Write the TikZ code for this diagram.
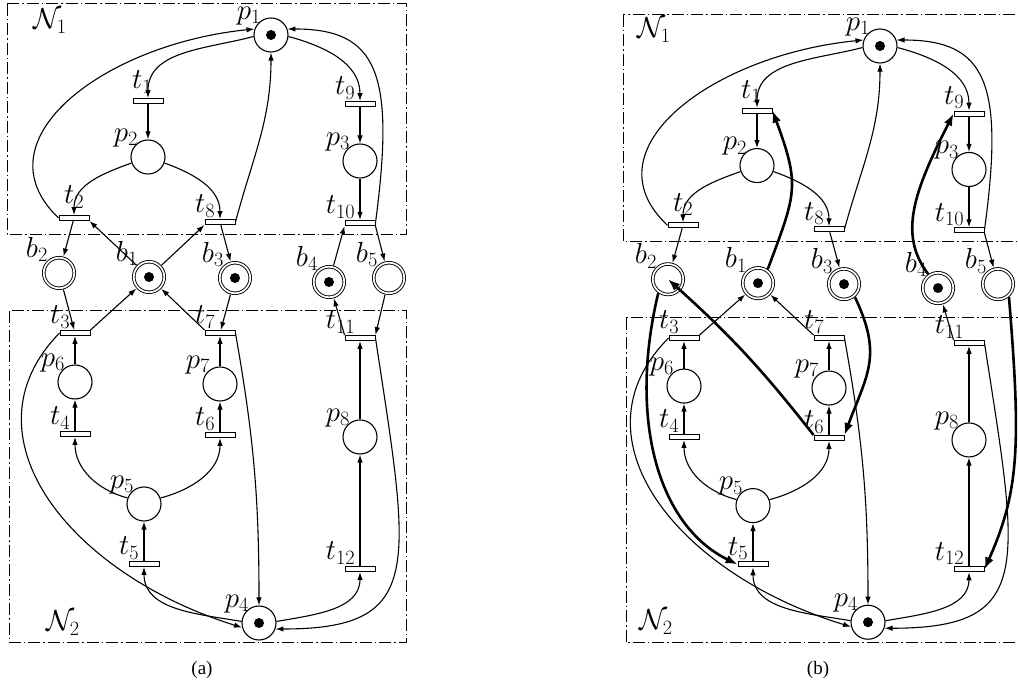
\RequirePackage{fix-cm}
\documentclass[tikz,border=0pt]{standalone}
\usepackage{fontspec}
\newfontfamily\capfont{Liberation Serif}
\usepackage{tikz}
\usetikzlibrary{arrows.meta}
\tikzset{
  place/.style={circle, draw, line width=1.1pt, minimum size=34pt, inner sep=0pt},
  buf/.style={circle, draw, line width=0.9pt, double, double distance=1.7pt, minimum size=30.5pt, inner sep=0pt, outer sep=1.8pt},
  trans/.style={rectangle, draw, fill=white, line width=0.9pt, minimum width=30pt, minimum height=5pt, inner sep=0pt},
  tok/.style={path picture={\fill (path picture bounding box.center) circle (5pt);}},
  notok/.style={},
  flow/.style={draw, line width=1.1pt, -{Latex[length=8pt,width=5.5pt]}},
  flowb/.style={draw, line width=2.6pt, -{Latex[length=12pt,width=9pt]}},
  lab/.style={font=\fontsize{29}{34}\selectfont, inner sep=1pt},
  captext/.style={font=\capfont\fontsize{19}{22}\selectfont},
  netbox/.style={draw, line width=1pt, dash pattern=on 12pt off 3pt on 1.5pt off 3pt},
}
% places, transitions, buffers and the arcs shared by both nets
\newcommand{\petrinet}{%
  \foreach \i/\x/\y/\m in {1/271/650/tok, 2/148/528/notok, 3/360/524/notok, 4/259/62/tok,
                           5/144/181/notok, 6/75/303/notok, 7/220/301/notok, 8/360/248/notok}
    \node[place,\m,label={[lab,label distance=-5pt]135:$p_{\i}$}] (p\i) at (\x,\y) {};
  \foreach \i/\x/\y/\m in {1/149/408/tok, 2/59/412/notok, 3/235/407/tok, 4/329/403/tok, 5/389/407/notok}
    \node[buf,\m,label={[lab,label distance=-3pt]135:$b_{\i}$}] (b\i) at (\x,\y) {};
  \foreach \i/\x/\y/\sx/\sy in {1/148/584/9pt/3pt, 2/74/467/15pt/5pt, 3/75/352/0pt/0pt, 4/75/251/0pt/0pt,
                            5/144/121/0pt/0pt, 6/220/250/0pt/0pt, 7/220/352/0pt/0pt, 8/220/463/0pt/0pt,
                            9/360/581/0pt/0pt, 10/360/462/0pt/0pt, 11/360/347/0pt/0pt, 12/360/116/0pt/0pt}
    \node[trans,label={[lab,label distance=1pt,xshift=\sx,yshift=\sy]above left:$t_{\i}$}] (t\i) at (\x,\y) {};
  % N1
  \draw[flow] (p1.185) to[out=195,in=90] (t1.north);
  \draw[flow] (t1) -- (p2);
  \draw[flow] (p2.200) to[out=200,in=90] (t2.north);
  \draw[flow] (p2.340) to[out=-20,in=90] (t8.north);
  \draw[flow] (t2.west) .. controls +(-82,78) and +(-150,-15) .. (p1.160);
  \draw[flow] (t8.east) to[out=75,in=-90] (p1.south);
  \draw[flow] (p1.-5) to[out=-15,in=90] (t9.north);
  \draw[flow] (t9) -- (p3);
  \draw[flow] (p3) -- (t10);
  \draw[flow] (t10.east) .. controls +(20,150) and +(90,0) .. (p1.20);
  % buffers
  \draw[flow] (t2) -- (b2);
  \draw[flow] (t8) -- (b3);
  \draw[flow] (t10.south east) -- (b5);
  \draw[flow] (t3.north east) -- (b1);
  \draw[flow] (t7.north west) -- (b1);
  \draw[flow] (t11.north west) -- (b4);
  % N2
  \draw[flow] (p6) -- (t3);
  \draw[flow] (t4) -- (p6);
  \draw[flow] (p7) -- (t7);
  \draw[flow] (t6) -- (p7);
  \draw[flow] (t5) -- (p5);
  \draw[flow] (t12) -- (p8);
  \draw[flow] (p8) -- (t11);
  \draw[flow] (p5.160) to[out=165,in=-90] (t4.south);
  \draw[flow] (p5.20) to[out=15,in=-90] (t6.south);
  \draw[flow] (p4.175) to[out=170,in=-90] (t5.south);
  \draw[flow] (p4.5) to[out=10,in=-90] (t12.south);
  \draw[flow] (t3.west) .. controls +(-100,-102) and +(-173,54) .. (p4.195);
  \draw[flow] (t7.east) to[out=-80,in=90] (p4.north);
  \draw[flow] (t11.east) .. controls +(35,-230) and +(150,0) .. (p4.-20);
}
\begin{document}
\begin{tikzpicture}[x=1pt,y=1pt]
  \useasboundingbox[fill=white] (0,0) rectangle (1018,685);
  \draw[netbox] (7,681) rectangle (406,450);
  \draw[netbox] (9,374) rectangle (406,42);
  \draw[netbox] (623,670) rectangle (1021,443);
  \draw[netbox] (626,367) rectangle (1021,42);
  \node[lab] (na1) at (50,664) {$\mathcal{N}_1$};
  \node[lab] (na2) at (63,62) {$\mathcal{N}_2$};
  \node[lab] (nb1) at (654,655) {$\mathcal{N}_1$};
  \node[lab] (nb2) at (656,63) {$\mathcal{N}_2$};
  % (a)
  \begin{scope}[name prefix=a-]
    \petrinet
    \draw[flow] (b1) -- (t2.south east);
    \draw[flow] (b1) -- (t8.south west);
    \draw[flow] (b4) -- (t10.south west);
    \draw[flow] (b2) -- (t3);
    \draw[flow] (b3) -- (t7);
    \draw[flow] (b5) -- (t11.north east);
  \end{scope}
  % (b)
  \begin{scope}[name prefix=b-, xshift=609pt, yshift=2pt, yscale=0.98]
    \petrinet
    \draw[flowb] (b1.55) to[out=70,in=-70,looseness=1.3] (t1.east);
    \draw[flowb] (b4.125) .. controls +(-30,40) and +(-40,-80) .. (t9.west);
    \draw[flowb] (b2.235) .. controls +(-30,-128) and +(-80,40) .. (t5.west);
    \draw[flowb] (t6.north west) to[bend right=5] (b2);
    \draw[flowb] (b3.-50) to[out=-65,in=70,looseness=1.2] (t6.north east);
    \draw[flowb] (b5.-50) .. controls +(12,-150) and +(35,80) .. (t12.east);
  \end{scope}
  \node[captext] (capa) at (202,15) {(a)};
  \node[captext] (capb) at (818,15) {(b)};
\end{tikzpicture}
\end{document}
